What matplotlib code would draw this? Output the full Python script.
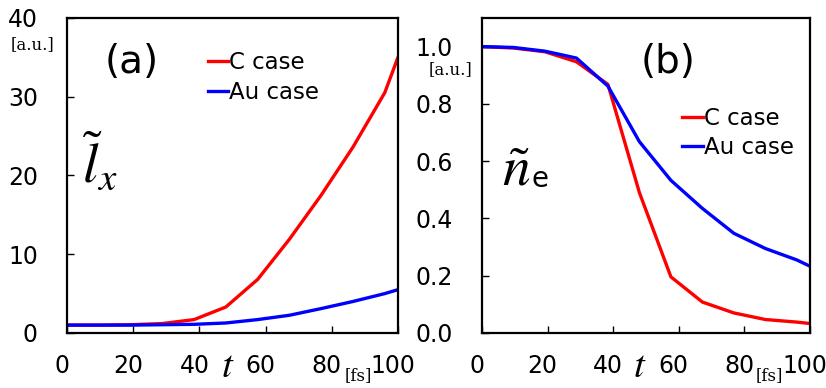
import numpy as np
import matplotlib
matplotlib.use("Agg")
import matplotlib.pyplot as plt
import matplotlib.transforms as mtrans

plt.rcParams['font.family'] = ['DejaVu Sans']
plt.rcParams['mathtext.fontset'] = 'stix'

# time grid [fs]
t = [0, 9.6, 19.2, 28.8, 38.4, 48, 57.6, 67.2, 76.8, 86.4, 96, 100]

# (a) l_x
lx_C = [1.0, 1.0, 1.05, 1.2, 1.7, 3.3, 6.8, 11.9, 17.5, 23.6, 30.5, 35.0]
lx_Au = [1.0, 1.0, 1.0, 1.05, 1.1, 1.27, 1.7, 2.25, 3.1, 4.0, 5.0, 5.5]

# (b) n_e
ne_C = [1.0, 0.995, 0.982, 0.947, 0.868, 0.49, 0.196, 0.108, 0.07, 0.047, 0.038, 0.033]
ne_Au = [1.0, 0.997, 0.984, 0.96, 0.862, 0.668, 0.533, 0.435, 0.348, 0.295, 0.255, 0.233]

xticks = [0, 20, 40, 60, 80, 100]
yticks_a = [0, 10, 20, 30, 40]
yticks_b = [0.0, 0.2, 0.4, 0.6, 0.8, 1.0]

fig = plt.figure(figsize=(8.26, 3.88), dpi=100)
ax1 = fig.add_axes([0.0811, 0.1418, 0.4007, 0.8119])
ax2 = fig.add_axes([0.5835, 0.1418, 0.3971, 0.8119])

red = '#ff0000'
blue = '#0000ff'

def style(ax):
    for s in ax.spines.values():
        s.set_linewidth(1.6)
    ax.tick_params(direction='in', length=5, width=1.0, labelsize=17,
                   top=False, right=False)
    ax.tick_params(axis='y', pad=21)
    ax.tick_params(axis='x', pad=15)
    ax.set_xlim(0, 100)
    ax.set_xticks(xticks)
    off = mtrans.ScaledTranslation(-5 / 100, 0, fig.dpi_scale_trans)
    for lab in ax.get_xticklabels():
        lab.set_transform(lab.get_transform() + off)

# panel (a)
ax1.plot(t, lx_C, color=red, lw=2.4, label='C case')
ax1.plot(t, lx_Au, color=blue, lw=2.4, label='Au case')
ax1.set_ylim(0, 40)
ax1.set_yticks(yticks_a)
style(ax1)
ax1.legend(loc='upper left', bbox_to_anchor=(0.39, 0.93), frameon=False,
           fontsize=16.5, handlelength=0.9, handletextpad=0.05,
           labelspacing=0.3, borderpad=0)
ax1.text(0.196, 0.86, '(a)', transform=ax1.transAxes, fontsize=28,
         ha='center', va='center')
ax1.text(0.10, 0.54, r'$\tilde{l}_x$', transform=ax1.transAxes,
         fontsize=40, ha='center', va='center')

# panel (b)
ax2.plot(t, ne_C, color=red, lw=2.4, label='C case')
ax2.plot(t, ne_Au, color=blue, lw=2.4, label='Au case')
ax2.set_ylim(0, 1.1)
ax2.set_yticks(yticks_b)
ax2.set_yticklabels(['%.1f' % v for v in yticks_b])
style(ax2)
ax2.legend(loc='upper left', bbox_to_anchor=(0.575, 0.755), frameon=False,
           fontsize=16.5, handlelength=0.9, handletextpad=0.05,
           labelspacing=0.3, borderpad=0)
ax2.text(0.567, 0.86, '(b)', transform=ax2.transAxes, fontsize=28,
         ha='center', va='center')
ax2.text(0.105, 0.515, r'$\tilde{n}$', transform=ax2.transAxes,
         fontsize=40, ha='center', va='center')
ax2.text(0.178, 0.49, 'e', transform=ax2.transAxes, fontsize=20,
         ha='center', va='center')

# unit labels and t labels
fig.text(32 / 826, 1 - 45 / 388, '[a.u.]', family='DejaVu Serif',
         fontsize=12, ha='center', va='center')
fig.text(450 / 826, 1 - 70 / 388, '[a.u.]', family='DejaVu Serif',
         fontsize=12, ha='center', va='center')
for tx, fx in [(228, 358), (640, 769)]:
    fig.text(tx / 826, 1 - 366 / 388, r'$t$', fontsize=28,
             ha='center', va='center')
    fig.text(fx / 826, 1 - 376 / 388, '[fs]', family='DejaVu Serif',
             fontsize=12, ha='center', va='center')

fig.savefig('out.png', dpi=100)
